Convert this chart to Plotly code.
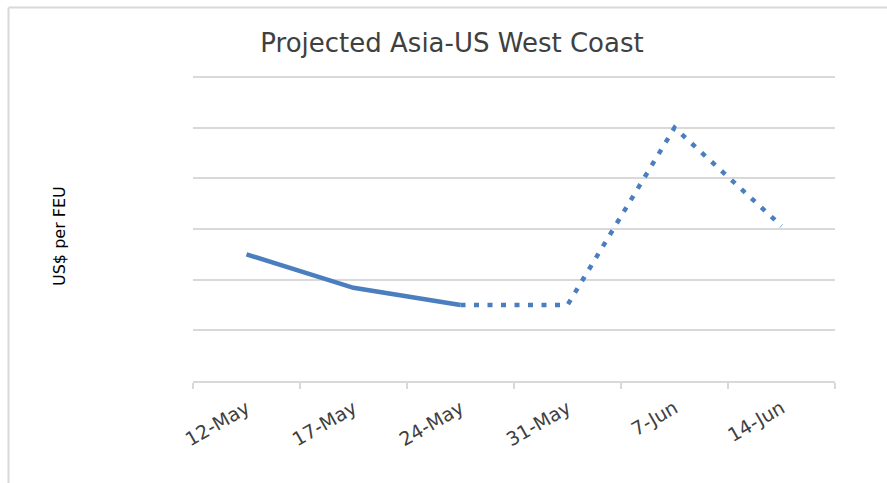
import plotly.graph_objects as go

categories = ["12-May", "17-May", "24-May", "31-May", "7-Jun", "14-Jun"]
actual = [1250, 920, 750, None, None, None]
projected = [None, None, 750, 750, 2500, 1530]

title_text = "Projected Asia-US West Coast"
y_title = "US$ per FEU"

W, H = 887, 483
L, R, T, B = 193, 52, 75, 102
LINE_COLOR = "#4a7ebf"
GRID = "#d9d9d9"
TEXT = "#404040"
FONT = "DejaVu Sans"

pw = W - L - R
ph = H - T - B

def px_x(px):
    return (px - L) / pw

def px_y(py):
    return (H - B - py) / ph

fig = go.Figure()
fig.add_trace(go.Scatter(x=categories, y=actual, mode="lines",
                         line=dict(color=LINE_COLOR, width=4.5),
                         connectgaps=False, hoverinfo="skip", showlegend=False))
fig.add_trace(go.Scatter(x=categories, y=projected, mode="lines",
                         line=dict(color=LINE_COLOR, width=4.5, dash="5px,8.5px"),
                         connectgaps=False, hoverinfo="skip", showlegend=False))

fig.update_layout(
    width=W, height=H,
    margin=dict(l=L, r=R, t=T, b=B),
    paper_bgcolor="white", plot_bgcolor="white",
    font=dict(family=FONT, color=TEXT),
    title=dict(text=title_text, x=452 / W, xanchor="center",
               y=1 - 43 / H, yanchor="middle",
               font=dict(family=FONT, size=26, color=TEXT)),
    xaxis=dict(type="category", showgrid=False, showline=True, linecolor=GRID,
               linewidth=2, ticks="outside", tickson="boundaries", ticklen=6,
               tickcolor=GRID, tickwidth=2, tickangle=-30,
               tickfont=dict(family=FONT, size=19, color=TEXT),
               ticklabelstandoff=7, fixedrange=True,
               range=[-0.5, 5.5]),
    yaxis=dict(range=[0, 3020], dtick=500, showgrid=True, gridcolor=GRID,
               gridwidth=1.5, showticklabels=False, zeroline=False,
               showline=False, ticks="", fixedrange=True),
    shapes=[
        dict(type="line", xref="paper", yref="paper",
             x0=px_x(8.5), x1=px_x(890), y0=px_y(7.5), y1=px_y(7.5),
             line=dict(color=GRID, width=2)),
        dict(type="line", xref="paper", yref="paper",
             x0=px_x(8.5), x1=px_x(8.5), y0=px_y(7.5), y1=px_y(490),
             line=dict(color=GRID, width=2)),
    ],
    annotations=[
        dict(text=y_title, xref="paper", yref="paper", x=px_x(59), y=px_y(236),
             xanchor="center", yanchor="middle", textangle=-90, showarrow=False,
             font=dict(family=FONT, size=16, color="#000000")),
    ],
)

fig.write_html("out.html")
